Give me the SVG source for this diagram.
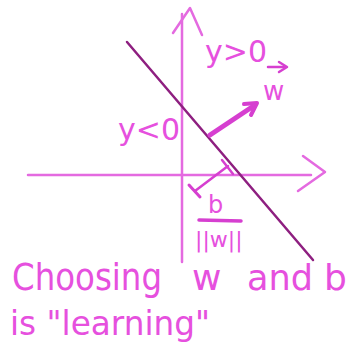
<svg xmlns="http://www.w3.org/2000/svg" width="350" height="361" viewBox="0 0 350 361">
<defs>
<style>
.axis{stroke:#e46ae0;stroke-width:2.5;fill:none;stroke-linecap:round;stroke-linejoin:round}
.ink{stroke:#d63fd0;fill:none;stroke-linecap:round;stroke-linejoin:round}
.txt{fill:#e650de;font-family:"DejaVu Sans","Liberation Sans",sans-serif}
</style>
</defs>
<rect width="350" height="361" fill="#ffffff"/>
<g id="axes">
<line class="axis" x1="182" y1="14" x2="182" y2="262"/>
<polyline class="axis" points="173,33 190,8 202,35"/>
<line class="axis" x1="28" y1="175" x2="311" y2="175"/>
<polyline class="axis" points="303,156 325,172 298,191"/>
</g>
<g id="boundary">
<line x1="127" y1="42" x2="313" y2="260" stroke="#8e1f80" stroke-width="2.5" stroke-linecap="round"/>
</g>
<g id="w-vector">
<line class="ink" x1="210" y1="135" x2="252" y2="107" stroke-width="5"/>
<polyline class="ink" points="244,104 257,103 251,115" stroke-width="4"/>
<text class="txt" x="263" y="100" font-size="26">w</text>
<polyline class="ink" points="268,67 284,67" stroke-width="2.5"/>
<polyline class="ink" points="279,62 287,67 279,72" stroke-width="2.5"/>
</g>
<g id="offset">
<line class="ink" x1="228" y1="166" x2="195" y2="191" stroke-width="2.5"/>
<line class="ink" x1="222" y1="160" x2="233" y2="174" stroke-width="2.5"/>
<line class="ink" x1="189" y1="185" x2="200" y2="197" stroke-width="3"/>
<text class="txt" x="208" y="213" font-size="24">b</text>
<line class="ink" x1="199" y1="220" x2="241" y2="221" stroke-width="3.5"/>
<text class="txt" x="195" y="247" font-size="22">||w||</text>
</g>
<g id="labels">
<text class="txt" x="205" y="62" font-size="30">y&gt;0</text>
<text class="txt" x="118" y="140" font-size="30">y&lt;0</text>
</g>
<g id="caption">
<text class="txt" x="12" y="290" font-size="38" textLength="150" lengthAdjust="spacingAndGlyphs">Choosing</text>
<text class="txt" x="192" y="290" font-size="36">w</text>
<text class="txt" x="247" y="290" font-size="36" textLength="66" lengthAdjust="spacingAndGlyphs">and</text>
<text class="txt" x="324" y="290" font-size="36">b</text>
<text class="txt" x="10" y="335" font-size="34" textLength="200" lengthAdjust="spacingAndGlyphs">is "learning"</text>
</g>
</svg>
